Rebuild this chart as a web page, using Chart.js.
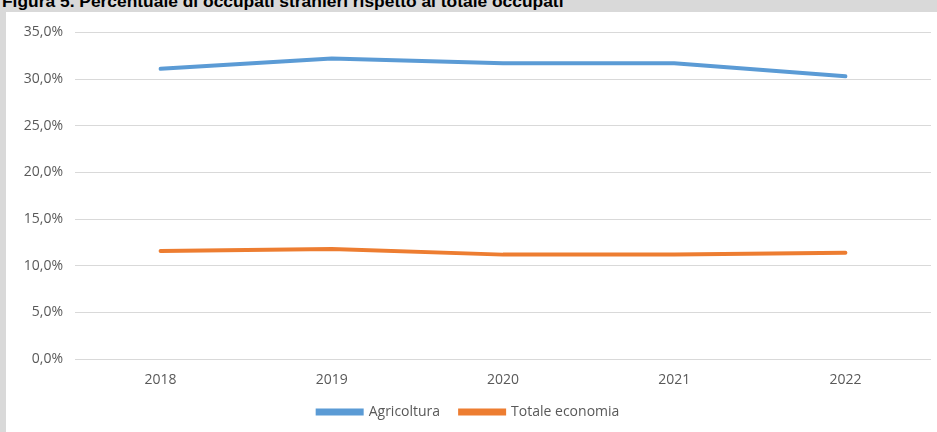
<!DOCTYPE html>
<html>
<head>
<meta charset="utf-8">
<script src="https://cdn.jsdelivr.net/npm/chart.js@4.4.1/dist/chart.umd.min.js"></script>
<style>
  html, body { margin: 0; padding: 0; }
  body { width: 937px; height: 432px; background: #d9d9d9; position: relative; overflow: hidden; }
  #title { position: absolute; left: 2px; top: -9px; font: bold 17.4px "Liberation Sans", Arial, sans-serif; color: #000; white-space: nowrap; }
  #panel { position: absolute; left: 6px; top: 12px; width: 931px; height: 420px; background: #fff; }
  canvas { display: block; }
</style>
</head>
<body>
<div id="title">Figura 5. Percentuale di occupati stranieri rispetto al totale occupati</div>
<div id="panel"><canvas id="c" width="931" height="420"></canvas></div>
<script>
// Anni e serie (percentuale di occupati stranieri)
const years = ['2018', '2019', '2020', '2021', '2022'];
const agricoltura = [31.1, 32.2, 31.7, 31.7, 30.3];
const totaleEconomia = [11.6, 11.8, 11.2, 11.2, 11.4];
const yTicks = [0, 5, 10, 15, 20, 25, 30, 35];

const fontFamily = '"Open Sans", "Liberation Sans", sans-serif';
const tickColor = '#595959';

new Chart(document.getElementById('c'), {
  type: 'line',
  data: {
    labels: years,
    datasets: [
      { label: 'Agricoltura', data: agricoltura, borderColor: '#5b9bd5', backgroundColor: '#5b9bd5',
        borderWidth: 4, pointRadius: 0, tension: 0, borderCapStyle: 'round' },
      { label: 'Totale economia', data: totaleEconomia, borderColor: '#ed7d31', backgroundColor: '#ed7d31',
        borderWidth: 4, pointRadius: 0, tension: 0, borderCapStyle: 'round' }
    ]
  },
  options: {
    responsive: false,
    animation: false,
    layout: { padding: { top: 0, right: 6, left: 0, bottom: 3 } },
    plugins: {
      tooltip: { enabled: false },
      legend: {
        position: 'bottom',
        labels: {
          boxWidth: 44, boxHeight: 3, color: tickColor, padding: 20,
          font: { family: fontFamily, size: 14 }
        }
      }
    },
    scales: {
      x: {
        offset: true,
        // axis box kept short; the year labels spill into the legend's empty top band
        afterFit: (s) => { s.height -= 15; },
        grid: { display: false, drawTicks: false },
        border: { display: false },
        ticks: { color: tickColor, font: { family: fontFamily, size: 14 }, padding: 12 }
      },
      y: {
        min: 0, max: 35,
        afterBuildTicks: (s) => { s.ticks = yTicks.map(v => ({ value: v })); },
        afterFit: (s) => { s.width = 69; },
        grid: { color: '#d9d9d9', lineWidth: 1, drawTicks: false },
        border: { display: false },
        ticks: {
          color: tickColor, padding: 12, font: { family: fontFamily, size: 14 },
          callback: (v) => v.toFixed(1).replace('.', ',') + '%'
        }
      }
    }
  }
});
</script>
</body>
</html>
